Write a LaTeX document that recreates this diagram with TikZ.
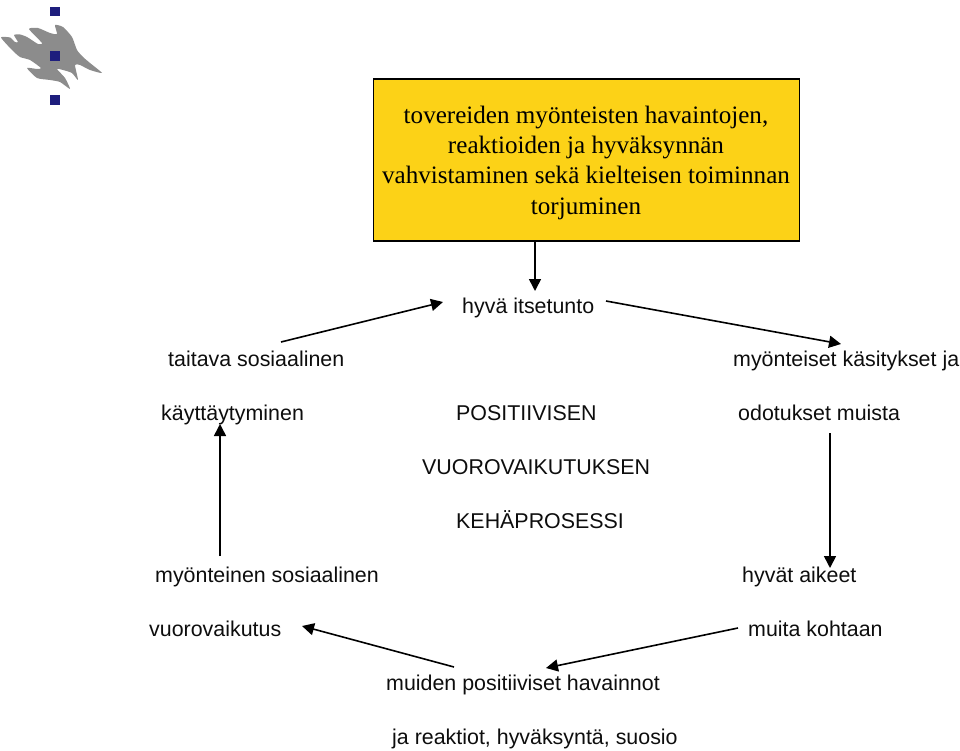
\documentclass[tikz,border=0pt]{standalone}
\usepackage{fontspec}
\setmainfont{Liberation Sans}
\newfontfamily\serifbox{Liberation Serif}
\usetikzlibrary{arrows.meta}
\definecolor{boxyellow}{RGB}{252,210,23}
\definecolor{logoblue}{RGB}{30,30,125}
\definecolor{logogray}{RGB}{140,140,140}
\tikzset{
  lbl/.style={inner sep=0pt,font=\fontsize{21.4}{24}\selectfont,text=black!95,anchor=base west},
  arr/.style={draw=black,line width=1.6pt,-{Triangle[length=12pt,width=12pt]}},
  sq/.style={fill=logoblue,draw=none}
}
\begin{document}
\begin{tikzpicture}[x=1pt,y=-1pt]
\useasboundingbox (0,0) rectangle (960,751);
% logo
\fill[logogray] plot[smooth cycle,tension=0.35] coordinates {
 (1,37.5) (10,37.5) (15,42) (18,42) (14,35) (20,34.5) (27,37) (38,44) (42,43)
 (29,29) (38,28) (50,33) (57,34) (55,25) (63,27) (72,37) (77,50) (83,57) (90,63) (102,73)
 (90,70) (80,65) (75,65) (78,80) (72,73) (63,70) (57,69) (65,78) (70,89) (60,82) (50,80)
 (37,78) (27,68) (37,69) (41,68) (30,60) (20,57) (12,50)};
\fill[sq] (50,6.7) rectangle (59.5,16.5);
\fill[sq] (50,51) rectangle (59.5,60.7);
\fill[sq] (50,95.5) rectangle (59.5,105.3);
% box
\node[draw=black,fill=boxyellow,line width=1.6pt,minimum width=426pt,minimum height=162pt,inner sep=0pt,anchor=north west] (top) at (372.7,78) {};
\node[inner sep=0pt,align=center,anchor=north,font=\serifbox\fontsize{25.1}{30.4}\selectfont] (toptext) at (586,105.5) {tovereiden myönteisten havaintojen,\\reaktioiden ja hyväksynnän\\vahvistaminen sekä kielteisen toiminnan\\torjuminen};
% labels
\node[lbl] (n1) at (462,313.5) {hyvä itsetunto};
\node[lbl] (n2) at (168,366.5) {taitava sosiaalinen};
\node[lbl] (n3) at (161,420.5) {käyttäytyminen};
\node[lbl] (n4) at (733,366.5) {myönteiset käsitykset ja};
\node[lbl] (n5) at (738,420.5) {odotukset muista};
\node[lbl] (c1) at (456,420.5) {POSITIIVISEN};
\node[lbl] (c2) at (422,474.5) {VUOROVAIKUTUKSEN};
\node[lbl] (c3) at (456,528.5) {KEHÄPROSESSI};
\node[lbl] (n6) at (155,582.5) {myönteinen sosiaalinen};
\node[lbl] (n7) at (149,636.5) {vuorovaikutus};
\node[lbl] (n8) at (742,582.5) {hyvät aikeet};
\node[lbl] (n9) at (748,636.5) {muita kohtaan};
\node[lbl] (n10) at (386,690.5) {muiden positiiviset havainnot};
\node[lbl] (n11) at (392,744.5) {ja reaktiot, hyväksyntä, suosio};
% connector ends
\coordinate (a1s) at (535,241); \coordinate (a1e) at (535,291);
\coordinate (a2s) at (281,342); \coordinate (a2e) at (443,302);
\coordinate (a3s) at (606,301); \coordinate (a3e) at (841,344);
\coordinate (a4s) at (830,433); \coordinate (a4e) at (830,568);
\coordinate (a5s) at (738,628); \coordinate (a5e) at (546,668);
\coordinate (a6s) at (454,667); \coordinate (a6e) at (302,626);
\coordinate (a7s) at (220,556); \coordinate (a7e) at (220,424);
\draw[arr] (a1s) -- (a1e);
\draw[arr] (a2s) -- (a2e);
\draw[arr] (a3s) -- (a3e);
\draw[arr] (a4s) -- (a4e);
\draw[arr] (a5s) -- (a5e);
\draw[arr] (a6s) -- (a6e);
\draw[arr] (a7s) -- (a7e);
\end{tikzpicture}
\end{document}
